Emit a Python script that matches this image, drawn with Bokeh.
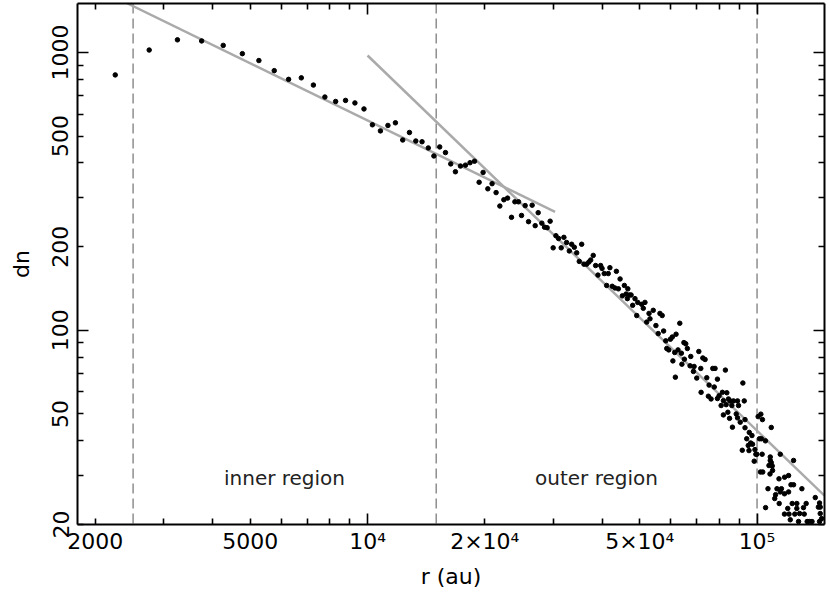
from bokeh.plotting import figure
from bokeh.models import LogAxis, FixedTicker, CustomJSTickFormatter, Span, Range1d
from bokeh.embed import file_html
from bokeh.resources import INLINE
from bokeh.core.properties import value

# ---------------- data ----------------
r_au = [2250, 2750, 3250, 3750, 4260, 4770, 5260, 5760, 6270, 6760, 7260, 7770, 8280, 8780, 9280, 9790,
        10290, 10790, 11280, 11790, 12310, 12810, 13300, 13800, 14320, 14800, 15320, 15850, 16350, 16810,
        17320, 17840, 18330, 18820, 19800, 19340, 20360, 20880, 21380, 21860, 22380, 22880, 23420, 23890,
        24410, 24850, 25390, 25900, 26460, 26940, 27420, 28020, 28470, 28910, 29430, 30450, 30930, 29960,
        31920, 32430, 31420, 33420, 33950, 32960, 34430, 35460, 34960, 35940, 36510, 37000, 37400, 37970,
        38510, 39670, 40000, 39040, 40520, 41490, 41900, 43540, 44500, 41100, 42480, 43170, 44050, 45640,
        46580, 45100, 46100, 47010, 47490, 46460, 48600, 49400, 47940, 49100, 51550, 50560, 51040, 54140,
        52800, 56320, 57080, 52080, 53100, 55000, 63330, 57560, 55750, 61950, 59920, 58290, 60600, 64890,
        65610, 58640, 59330, 62680, 66230, 61470, 63930, 70870, 67580, 60800, 65080, 72570, 73560, 64130,
        67300, 68930, 71700, 76970, 78020, 82940, 68650, 70010, 74290, 61700, 79120, 75310, 77660, 71840,
        81480, 83640, 75000, 76200, 79900, 79120, 81950, 84450, 80860, 83300, 84150, 81950, 85000, 91960,
        85300, 86980, 89100, 92710, 86160, 89630, 88420, 89100, 93130, 90540, 86460, 93130, 95510, 97040,
        94070, 96300, 94940, 97370, 91640, 95340, 98770, 99300, 98340, 100650, 102270, 103230, 108770,
        101430, 102620, 105090, 99880, 103050, 108130, 108130, 108770, 107300, 109410, 109600, 102040,
        103430, 107950, 106680, 105190, 114720, 124100, 120500, 113840, 117690, 112500, 115510, 117600,
        114720, 111580, 122200, 124100, 120500, 130350, 114000, 111000, 123100, 126500, 133700, 119900,
        131600, 126500, 117600, 120800, 125000, 128600, 132200, 121700, 127800, 134500, 136200, 138400,
        144700, 141100, 144700, 145300, 143700, 145300, 146500]
dn = [830, 1020, 1110, 1100, 1060, 990, 935, 860, 800, 810, 763, 691, 666, 672, 658, 626,
      549, 522, 546, 558, 484, 515, 480, 477, 453, 424, 457, 436, 397, 372,
      390, 393, 401, 406, 370, 341, 323, 337, 313, 280, 295, 299, 255, 290,
      290, 259, 281, 246, 282, 238, 265, 243, 235, 234, 247, 219, 214, 198,
      216, 207, 198, 204, 199, 193, 190, 204, 177, 173, 173, 176, 179, 186,
      171, 171, 167, 158, 160, 160, 168, 163, 153, 145, 144, 142, 141, 145,
      141, 133, 135, 134, 134, 130, 130, 126, 123, 113, 126, 124, 120, 118,
      115, 115, 113, 107, 110, 104, 106, 99.4, 97.3, 96.8, 92.9, 91.6, 94.6, 90.3,
      89.4, 86, 85, 85, 86, 83.2, 82.7, 83.9, 80.5, 77.6, 78.7, 79.5, 78.5, 75.5,
      74.5, 74.1, 72.9, 72.9, 72.9, 71.9, 71.1, 67.3, 67.5, 67.8, 66.7, 63.5, 62.5, 59.8,
      59.8, 59.6, 57.9, 56.6, 58.1, 56.8, 55.8, 56.6, 53.6, 54, 50.7, 49.6, 48.2, 64.6,
      55.7, 55.7, 55.7, 55.7, 53.6, 53.6, 50, 48.4, 47.7, 46.7, 44.8, 44.6, 42.9, 41.8,
      40.7, 39.3, 38.5, 38.9, 37, 36.9, 37.2, 35.8, 33.8, 48.9, 49.9, 47.7, 44.7,
      40.7, 40.7, 40, 35.8, 35.8, 35, 34, 33.4, 32.6, 32.5, 31.3, 30.9,
      30.9, 30.4, 26.9, 23, 35.8, 34, 30, 29.2, 29.6, 26.9, 26.9, 25.8,
      26.2, 25.6, 27.8, 27.8, 26.2, 26.9, 23.8, 24.8, 23.8, 23.8, 23.8, 22.85,
      23, 22.85, 21.8, 21.8, 21.8, 21.9, 21.8, 20.8, 20.5, 20.5, 20.5, 20.5,
      20.5, 25, 23.9, 23.1, 23.1, 21.9, 21]

fit_inner_r = [2420, 30300]
fit_inner_dn = [1500, 267]
fit_outer_r = [10000, 149000]
fit_outer_dn = [975, 25.4]

region_bounds = [2500, 15000, 100000]
region_names = ["inner region", "outer region"]
region_label_r = [6120, 38700]
region_label_dn = [29.4, 29.4]

x_lim = (1800, 149000)
y_lim = (20, 1500)

x_major = [1e4, 1e5]
x_minor = [2000, 3000, 4000, 5000, 6000, 7000, 8000, 9000,
           2e4, 3e4, 4e4, 5e4, 6e4, 7e4, 8e4, 9e4]
x_label_vals = [2000, 5000, 1e4, 2e4, 5e4, 1e5]
x_label_text = ["2000", "5000", "10\u2074", "2\u00d710\u2074", "5\u00d710\u2074", "10\u2075"]

y_major = [100, 1000]
y_minor = [20, 30, 40, 50, 60, 70, 80, 90, 200, 300, 400, 500, 600, 700, 800, 900]
y_label_vals = [20, 50, 100, 200, 500, 1000]
y_label_text = ["20", "50", "100", "200", "500", "1000"]

FONT = "DejaVu Sans"
TICK_FS = "22px"

p = figure(width=826, height=591, x_axis_type="log", y_axis_type="log",
           x_range=Range1d(*x_lim), y_range=Range1d(*y_lim),
           output_backend="svg", toolbar_location=None,
           min_border_left=77, min_border_right=2, min_border_top=3, min_border_bottom=65)
p.grid.visible = False
p.outline_line_color = None
p.background_fill_color = "white"
p.border_fill_color = "white"


def tick_axis(ax, major, minor):
    ax.ticker = FixedTicker(ticks=major, minor_ticks=minor)
    ax.major_tick_in = 11
    ax.major_tick_out = 0
    ax.minor_tick_in = 6
    ax.minor_tick_out = 0
    ax.axis_line_width = 2
    ax.major_tick_line_width = 1.6
    ax.minor_tick_line_width = 1.6
    ax.axis_line_color = "black"
    ax.major_tick_line_color = "black"
    ax.minor_tick_line_color = "black"
    ax.major_label_text_font_size = "1px"
    ax.major_label_text_color = None
    ax.major_label_standoff = 0


def label_axis(ax, vals, labs, title, standoff, title_standoff, orient="horizontal"):
    ax.ticker = FixedTicker(ticks=vals, minor_ticks=[])
    ax.formatter = CustomJSTickFormatter(args=dict(vals=vals, labs=labs), code="""
        const i = vals.findIndex(v => Math.abs(v - tick) <= 1e-6 * v);
        return i >= 0 ? labs[i] : "";
    """)
    ax.axis_line_color = None
    ax.major_tick_line_color = None
    ax.minor_tick_line_color = None
    ax.major_tick_in = 0
    ax.major_tick_out = 0
    ax.minor_tick_in = 0
    ax.minor_tick_out = 0
    ax.major_label_standoff = standoff
    ax.major_label_text_font = FONT
    ax.major_label_text_font_size = TICK_FS
    ax.major_label_text_color = "black"
    ax.major_label_orientation = orient
    ax.axis_label = title
    ax.axis_label_text_font = FONT
    ax.axis_label_text_font_size = TICK_FS
    ax.axis_label_text_font_style = "normal"
    ax.axis_label_text_color = "black"
    ax.axis_label_standoff = title_standoff


# frame-hugging tick axes (all four sides)
tick_axis(p.xaxis[0], x_major, x_minor)
tick_axis(p.yaxis[0], y_major, y_minor)
top = LogAxis()
tick_axis(top, x_major, x_minor)
p.add_layout(top, "above")
right = LogAxis()
tick_axis(right, y_major, y_minor)
p.add_layout(right, "right")

# labelled axes placed just outside
xlab = LogAxis()
label_axis(xlab, x_label_vals, x_label_text, "r (au)", 4, 7)
p.add_layout(xlab, "below")
ylab = LogAxis()
label_axis(ylab, y_label_vals, y_label_text, "dn", 9, 16, orient="vertical")
p.add_layout(ylab, "left")

# region boundaries
for b in region_bounds:
    p.add_layout(Span(location=b, dimension="height", line_color="#555555",
                      line_dash="10 5", line_width=1, level="underlay"))

# power-law fits
p.line(fit_inner_r, fit_inner_dn, line_color="#aaaaaa", line_width=2.5)
p.line(fit_outer_r, fit_outer_dn, line_color="#aaaaaa", line_width=2.5)

# data points
p.scatter(r_au, dn, size=4.5, marker="circle", fill_color="black", line_color="black")

# region names
p.text(x=region_label_r, y=region_label_dn, text=region_names, text_align="center",
       text_baseline="middle", text_font=value(FONT), text_font_size=value("20px"),
       text_color="#222222")

open("out.html", "w").write(file_html(p, INLINE))
